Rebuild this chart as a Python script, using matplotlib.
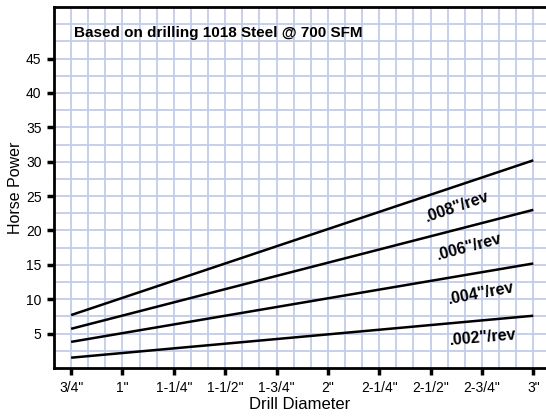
import numpy as np
import matplotlib.pyplot as plt

plt.rcParams['font.family'] = ['Liberation Sans', 'DejaVu Sans']

# drill diameters (inches) and horsepower at each feed rate
diameters = [0.75, 3.0]
hp_002 = [1.5, 7.6]
hp_004 = [3.8, 15.2]
hp_006 = [5.7, 23.0]
hp_008 = [7.7, 30.2]

feeds = ['.002"/rev', '.004"/rev', '.006"/rev', '.008"/rev']
series = [hp_002, hp_004, hp_006, hp_008]

x_ticks = [0.75, 1.0, 1.25, 1.5, 1.75, 2.0, 2.25, 2.5, 2.75, 3.0]
x_labels = ['3/4"', '1"', '1-1/4"', '1-1/2"', '1-3/4"', '2"',
            '2-1/4"', '2-1/2"', '2-3/4"', '3"']
y_ticks = [5, 10, 15, 20, 25, 30, 35, 40, 45]

# where each curve label sits (x, y, angle)
label_pos = [(2.755, 4.4, 5), (2.745, 10.9, 10.5), (2.69, 17.6, 15), (2.63, 23.5, 19)]


def main():
    fig = plt.figure(figsize=(5.46, 4.16), dpi=100)
    ax = fig.add_axes([54 / 546, 48 / 416, 1 - 54 / 546, 361 / 416])

    for hp in series:
        ax.plot(diameters, hp, color='black', lw=1.8, solid_capstyle='butt')

    for name, (x, y, ang) in zip(feeds, label_pos):
        ax.text(x, y, name, rotation=ang, ha='center', va='center',
                fontsize=11.5, fontweight='bold', rotation_mode='anchor')

    ax.text(0.041, 0.928, 'Based on drilling 1018 Steel @ 700 SFM',
            transform=ax.transAxes, fontsize=11, fontweight='bold',
            ha='left', va='center')

    ax.set_xlim(0.75 - 1 / 12, 3.0 + 12.7 / 205.3)
    ax.set_ylim(0, 52.5)

    # fine grid: 1/12" across, 2.5 hp up
    for gx in np.arange(0.75 - 1 / 12, 3.07, 1 / 12):
        ax.axvline(gx, color='#c3cbe8', lw=1.3, zorder=0)
    for gy in np.arange(2.5, 52.6, 2.5):
        ax.axhline(gy, color='#c3cbe8', lw=1.3, zorder=0)

    ax.set_xticks(x_ticks)
    ax.set_xticklabels(x_labels)
    ax.set_yticks(y_ticks)
    ax.tick_params(which='major', direction='out', length=5, width=2.5,
                   labelsize=10, pad=4)

    for side in ['left', 'bottom', 'top']:
        ax.spines[side].set_linewidth(2)
    ax.spines['right'].set_visible(False)

    ax.set_xlabel('Drill Diameter', fontsize=12, labelpad=2)
    ax.set_ylabel('Horse Power', fontsize=11.5, labelpad=2)

    fig.savefig('out.png', dpi=100)


if __name__ == "__main__":
    main()
